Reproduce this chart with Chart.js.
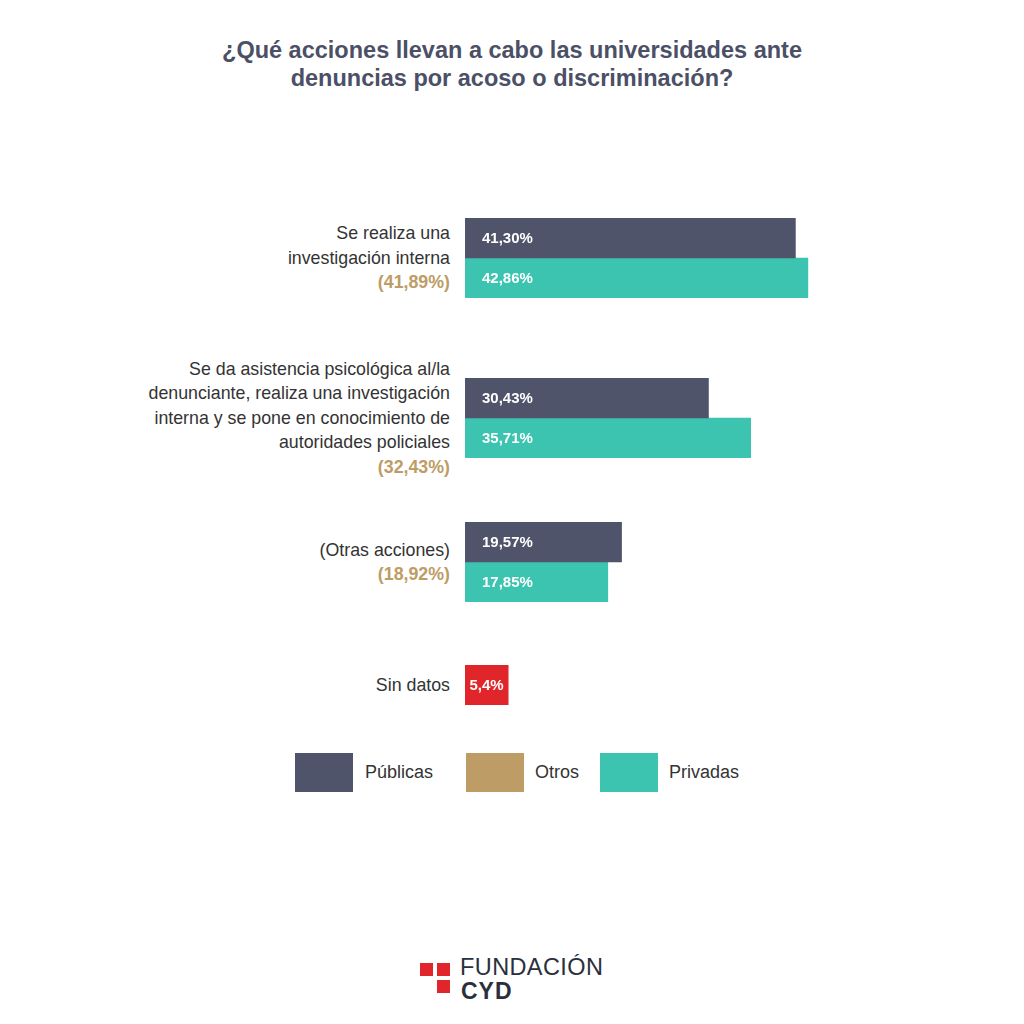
<!DOCTYPE html>
<html lang="es">
<head>
<meta charset="utf-8">
<script src="https://cdn.jsdelivr.net/npm/chart.js@4"></script>
<style>
    html, body { margin: 0; padding: 0; background: #ffffff; }
    body { width: 1024px; height: 1024px; position: relative; overflow: hidden;
           font-family: "Liberation Sans", Arial, Helvetica, sans-serif; color: #333333; }
    .title { position: absolute; left: 0; top: 36px; width: 1024px; text-align: center;
             font-size: 23.5px; font-weight: bold; line-height: 28px; color: #4b5066; }
    .group { position: absolute; left: 0; width: 1024px; }
    .label { position: absolute; right: 574px; top: 0; bottom: 0; display: flex; flex-direction: column;
             justify-content: center; text-align: right; font-size: 17.8px; line-height: 24.5px; white-space: nowrap; }
    .label .otros { color: #bd9c66; font-weight: bold; }
    .group canvas { position: absolute; left: 465px; top: 0; }
    .legend-box { position: absolute; top: 753px; width: 58px; height: 39px; }
    .legend-text { position: absolute; top: 760px; font-size: 18px; line-height: 24px; }
    .logo-sq { position: absolute; width: 13px; height: 13px; background: #e0262b; }
    .logo-a { position: absolute; left: 460px; top: 953px; font-size: 23.5px; letter-spacing: 0.4px; color: #2b2f3d; line-height: 28px; }
    .logo-b { position: absolute; left: 461px; top: 978px; font-size: 23px; font-weight: bold; letter-spacing: 1px; color: #2b2f3d; line-height: 26px; }
</style>
</head>
<body>
<div class="title">¿Qué acciones llevan a cabo las universidades ante<br>denuncias por acoso o discriminación?</div>
<div id="groups"></div>

<div class="legend-box" style="left:295px;background:#4f546a"></div>
<div class="legend-text" style="left:365px">Públicas</div>
<div class="legend-box" style="left:466px;background:#bd9c66"></div>
<div class="legend-text" style="left:535px">Otros</div>
<div class="legend-box" style="left:600px;background:#3cc4b0"></div>
<div class="legend-text" style="left:669px">Privadas</div>

<div class="logo-sq" style="left:420px;top:963px"></div>
<div class="logo-sq" style="left:437px;top:963px"></div>
<div class="logo-sq" style="left:437px;top:980px"></div>
<div class="logo-a">FUNDACIÓN</div>
<div class="logo-b">CYD</div>

<script>
    var CATEGORIES = [
        ["Se realiza una", "investigación interna"],
        ["Se da asistencia psicológica al/la", "denunciante, realiza una investigación", "interna y se pone en conocimiento de", "autoridades policiales"],
        ["(Otras acciones)"]
    ];
    var PUBLICAS = [41.30, 30.43, 19.57];
    var PRIVADAS = [42.86, 35.71, 17.85];
    var OTROS = [41.89, 32.43, 18.92];
    var SIN_DATOS_LABEL = "Sin datos";
    var SIN_DATOS = [5.4];

    var COLORS = {
        publicas: "#4f546a",
        privadas: "#3cc4b0",
        otros: "#bd9c66",
        sinDatos: "#e0262b"
    };

    // top / height of each block on the page (layout only)
    var GROUP_BOXES = [[218, 80], [378, 80], [522, 80]];
    var SIN_DATOS_BOX = [665, 40];

    function pct(v, digits) {
        return v.toFixed(digits).replace(".", ",") + "%";
    }

    var valueLabels = {
        id: "valueLabels",
        afterDatasetsDraw: function (chart) {
            var ctx = chart.ctx;
            ctx.save();
            ctx.fillStyle = "#ffffff";
            ctx.font = "bold 15px 'Liberation Sans', Arial, sans-serif";
            ctx.textBaseline = "middle";
            chart.data.datasets.forEach(function (ds, i) {
                chart.getDatasetMeta(i).data.forEach(function (bar, j) {
                    var txt = pct(ds.data[j], ds.digits);
                    if (ds.centerLabel) {
                        ctx.textAlign = "center";
                        ctx.fillText(txt, (bar.x + bar.base) / 2, bar.y + 1);
                    } else {
                        ctx.textAlign = "left";
                        ctx.fillText(txt, bar.base + 17, bar.y + 1);
                    }
                });
            });
            ctx.restore();
        }
    };

    function makeChart(top, height, labelLines, otros, datasets) {
        var wrap = document.createElement("div");
        wrap.className = "group";
        wrap.style.top = top + "px";
        wrap.style.height = height + "px";

        var label = document.createElement("div");
        label.className = "label";
        labelLines.forEach(function (line) {
            var d = document.createElement("div");
            d.textContent = line;
            label.appendChild(d);
        });
        if (otros !== null) {
            var o = document.createElement("div");
            o.className = "otros";
            o.textContent = "(" + pct(otros, 2) + ")";
            label.appendChild(o);
        }
        wrap.appendChild(label);

        var canvas = document.createElement("canvas");
        canvas.width = 480;
        canvas.height = height;
        canvas.style.width = "480px";
        canvas.style.height = height + "px";
        wrap.appendChild(canvas);
        document.getElementById("groups").appendChild(wrap);

        new Chart(canvas.getContext("2d"), {
            type: "bar",
            data: { labels: [labelLines.join(" ")], datasets: datasets },
            options: {
                indexAxis: "y",
                responsive: false,
                animation: false,
                devicePixelRatio: 1,
                layout: { padding: 0 },
                plugins: { legend: { display: false }, tooltip: { enabled: false } },
                scales: {
                    x: { display: false, min: 0, max: 60 },
                    y: { display: false }
                }
            },
            plugins: [valueLabels]
        });
    }

    CATEGORIES.forEach(function (cat, i) {
        makeChart(GROUP_BOXES[i][0], GROUP_BOXES[i][1], cat, OTROS[i], [
            { label: "Públicas", data: [PUBLICAS[i]], backgroundColor: COLORS.publicas,
              barPercentage: 1, categoryPercentage: 1, digits: 2 },
            { label: "Privadas", data: [PRIVADAS[i]], backgroundColor: COLORS.privadas,
              barPercentage: 1, categoryPercentage: 1, digits: 2 }
        ]);
    });

    makeChart(SIN_DATOS_BOX[0], SIN_DATOS_BOX[1], [SIN_DATOS_LABEL], null, [
        { label: SIN_DATOS_LABEL, data: SIN_DATOS, backgroundColor: COLORS.sinDatos,
          barPercentage: 1, categoryPercentage: 1, digits: 1, centerLabel: true }
    ]);
</script>
</body>
</html>
